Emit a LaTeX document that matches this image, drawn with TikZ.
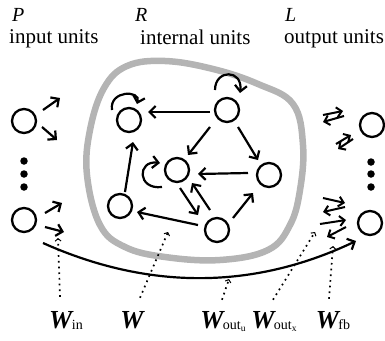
\documentclass[tikz,border=0pt]{standalone}
\usepackage{fontspec}
\setmainfont{Liberation Serif}
\usetikzlibrary{arrows.meta}
\definecolor{blobgray}{RGB}{180,180,180}
\newcommand\Wlab[1]{{\fontsize{26}{26}\selectfont\bfseries\itshape W}\kern-0.5pt\raisebox{-1.5pt}{\fontsize{14}{14}\selectfont #1}}
\begin{document}
\begin{tikzpicture}[x=1pt,y=-1pt,
  unit/.style={circle,draw,line width=2.3pt,minimum size=24pt,inner sep=0pt},
  dotn/.style={circle,fill,minimum size=7.5pt,inner sep=0pt},
  arr/.style={line width=2.2pt,-{Straight Barb[length=6pt,width=12pt]}},
  parr/.style={line width=2pt,-{Straight Barb[length=5pt,width=10pt]}},
  dotarr/.style={line width=1.7pt,dash pattern=on 1.7pt off 4pt,-{Straight Barb[length=2.5pt,width=6pt,line width=1pt]}},
  blob/.style={line width=6.5pt,draw=blobgray},
  hdr/.style={anchor=base west,inner sep=0pt,font=\fontsize{21}{21}\selectfont},
  hdrvar/.style={anchor=base west,inner sep=0pt,font=\fontsize{20}{20}\selectfont\itshape},
  wlab/.style={anchor=base,inner sep=0pt}]
\useasboundingbox (0,0) rectangle (385,340);

% reservoir outline
\draw[blob] plot[smooth cycle,tension=0.65] coordinates {
  (87,175) (90,130) (104,88) (127,66) (165,61) (213,69) (258,84) (293,104)
  (303,145) (300,190) (290,225) (268,250) (220,260) (165,257) (125,247) (100,225)};

% headers
\node[hdrvar] (Pl) at (12,21) {P};
\node[hdr] (Pt) at (9,43) {input units};
\node[hdrvar] (Rl) at (135,21) {R};
\node[hdr] (Rt) at (140,44) {internal units};
\node[hdrvar] (Ll) at (285,21) {L};
\node[hdr] (Lt) at (284,43) {output units};

% input units
\node[unit] (I1) at (24,121) {};
\node[unit] (I2) at (24,220) {};
\node[dotn] (di1) at (24,161) {};
\node[dotn] (di2) at (24,174) {};
\node[dotn] (di3) at (24,187) {};

% internal units
\node[unit] (A) at (129,120) {};
\node[unit] (B) at (227,110) {};
\node[unit] (C) at (177,170) {};
\node[unit] (D) at (269,175) {};
\node[unit] (E) at (120,206) {};
\node[unit] (F) at (217,230) {};

% output units
\node[unit] (O1) at (372,125) {};
\node[unit] (O2) at (370,223) {};
\node[dotn] (do1) at (371,162) {};
\node[dotn] (do2) at (371,174) {};
\node[dotn] (do3) at (371,187) {};

% input arrows
\draw[arr] ([shift={(19,-11)}]I1.center) -- ([shift={(36,-23)}]I1.center);
\draw[arr] ([shift={(18,6)}]I1.center) -- ([shift={(33,19)}]I1.center);
\draw[arr] ([shift={(21,-7)}]I2.center) -- ([shift={(38,-17)}]I2.center);
\draw[arr] ([shift={(21,7)}]I2.center) -- ([shift={(40,12)}]I2.center);

% internal connections
\draw[arr] ([shift={(-17,2)}]B.center) -- ([shift={(19,-8)}]A.center);
\draw[arr] ([shift={(-17,17)}]B.center) -- ([shift={(11,-15)}]C.center);
\draw[arr] ([shift={(11,17)}]B.center) -- ([shift={(-11,-15)}]D.center);
\draw[arr] ([shift={(-21,-2)}]D.center) -- ([shift={(21,4)}]C.center);
\draw[arr] ([shift={(3,18)}]C.center) -- ([shift={(-19,-15)}]F.center);
\draw[arr] ([shift={(-7,-20)}]F.center) -- ([shift={(15,13)}]C.center);
\draw[arr] ([shift={(16,-12)}]F.center) -- ([shift={(-16,18)}]D.center);
\draw[arr] ([shift={(-19,-5)}]F.center) -- ([shift={(17,6)}]E.center);
\draw[arr] ([shift={(5,-14)}]E.center) -- ([shift={(4,22)}]A.center);

% self loops
\draw[arr] ([shift={(-17,-10)}]A.center) .. controls ([shift={(-20,-30)}]A.center) and ([shift={(12,-30)}]A.center) .. ([shift={(8,-16)}]A.center);
\draw[arr] ([shift={(-12,-20)}]B.center) .. controls ([shift={(-12,-41)}]B.center) and ([shift={(16,-41)}]B.center) .. ([shift={(13,-17)}]B.center);
\draw[arr] ([shift={(-15,17)}]C.center) .. controls ([shift={(-40,20)}]C.center) and ([shift={(-40,-10)}]C.center) .. ([shift={(-17,-7)}]C.center);

% output / feedback arrow pairs
\draw[parr] ([shift={(-49,-10)}]O1.center) -- ([shift={(-29,-14)}]O1.center);
\draw[parr] ([shift={(-28,-9)}]O1.center) -- ([shift={(-49,-3)}]O1.center);
\draw[parr] ([shift={(-36,19)}]O1.center) -- ([shift={(-21,10)}]O1.center);
\draw[parr] ([shift={(-19,14)}]O1.center) -- ([shift={(-34,24)}]O1.center);
\draw[parr] ([shift={(-47,-25)}]O2.center) -- ([shift={(-25,-20)}]O2.center);
\draw[parr] ([shift={(-25,-16)}]O2.center) -- ([shift={(-47,-11)}]O2.center);
\draw[parr] ([shift={(-50,1)}]O2.center) -- ([shift={(-24,-3)}]O2.center);
\draw[parr] ([shift={(-24,4)}]O2.center) -- ([shift={(-43,14)}]O2.center);

% direct input-output connection
\draw[arr] ([shift={(19,23)}]I2.center) .. controls (148,290) and (253,290) .. ([shift={(-14,18)}]O2.center);

% weight labels
\node[wlab] (Win) at (66,328) {\Wlab{in}};
\node[wlab] (W) at (132,328) {{\fontsize{26}{26}\selectfont\bfseries\itshape W}};
\node[wlab] (Wu) at (223,328) {\Wlab{out\raisebox{-2pt}{\fontsize{9.5}{9.5}\selectfont u}}};
\node[wlab] (Wx) at (274,328) {\Wlab{out\raisebox{-2pt}{\fontsize{9.5}{9.5}\selectfont x}}};
\node[wlab] (Wfb) at (333,328) {\Wlab{fb}};

\coordinate (tin) at (58,238);
\coordinate (tw) at (168,232);
\coordinate (tu) at (229,279);
\coordinate (tx) at (315,232);
\coordinate (tfb) at (333,246);

\draw[dotarr] ([xshift=-6pt,yshift=14pt]Win.north) -- (tin);
\draw[dotarr] ([xshift=8pt,yshift=13pt]W.north) -- (tw);
\draw[dotarr] ([xshift=-1pt,yshift=11pt]Wu.north) -- (tu);
\draw[dotarr] ([xshift=-1pt,yshift=11pt]Wx.north) -- (tx);
\draw[dotarr] ([xshift=-4pt,yshift=12pt]Wfb.north) -- (tfb);
\end{tikzpicture}
\end{document}
